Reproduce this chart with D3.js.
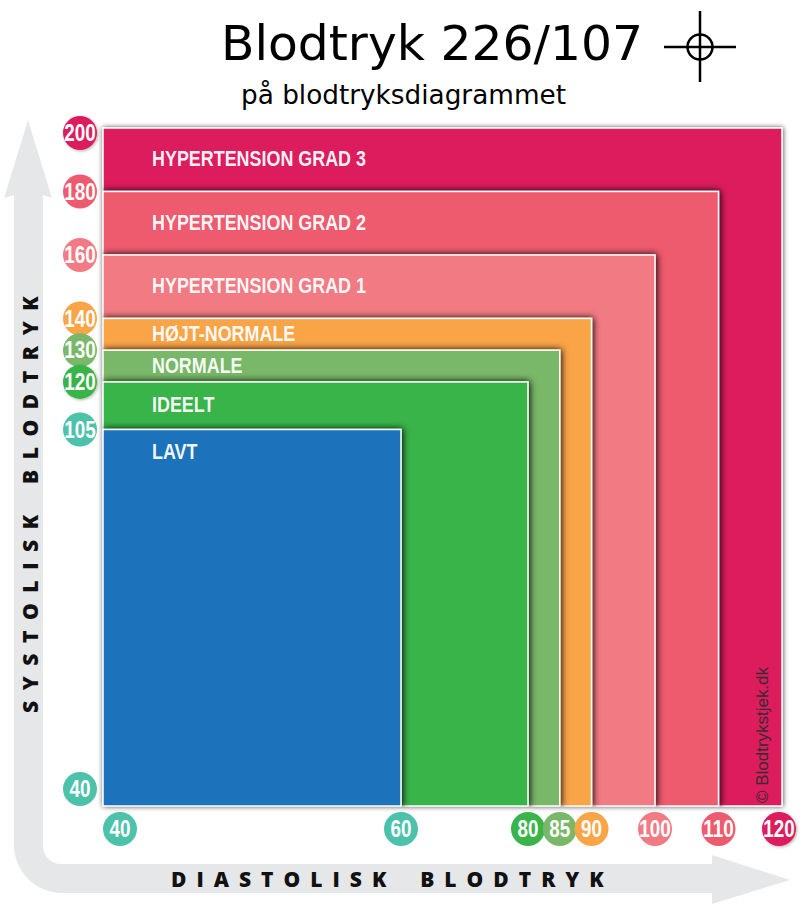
<!DOCTYPE html>
<html>
<head>
<meta charset="utf-8">
<script src="https://d3js.org/d3.v7.min.js"></script>
<style>
  html, body { margin: 0; padding: 0; background: #fff; }
  svg { display: block; }
  .band-label { font-family: "Liberation Sans", sans-serif; font-weight: bold; font-size: 22px; fill: #fff; fill-opacity: .95; }
  .tick-label { font-family: "Liberation Sans", sans-serif; font-weight: bold; font-size: 23px; fill: #fff; text-anchor: middle; dominant-baseline: central; }
  .axis-title { font-family: "Open Sans", sans-serif; font-weight: 800; font-size: 21px; fill: #111; }
</style>
</head>
<body>
<div id="chart"></div>
<script>
// -----------------------------------------//
//                 Data
// -----------------------------------------//
var categories = ["HYPERTENSION GRAD 3", "HYPERTENSION GRAD 2", "HYPERTENSION GRAD 1", "HØJT-NORMALE", "NORMALE", "IDEELT", "LAVT"];
var systolicTops = [200, 180, 160, 140, 130, 120, 105];
var diastolicEnds = [120, 110, 100, 90, 85, 80, 60];
var bandColors = ["#dc1b5c", "#ee5a6e", "#f27a83", "#f9a446", "#78b868", "#39b44a", "#1c72bb"];

var systolicTicks = [200, 180, 160, 140, 130, 120, 105, 40];
var systolicColors = ["#dc1b5c", "#ee5a6e", "#f27a83", "#f9a446", "#78b868", "#39b44a", "#4dc2ab", "#4dc2ab"];
var diastolicTicks = [40, 60, 80, 85, 90, 100, 110, 120];
var diastolicColors = ["#4dc2ab", "#4dc2ab", "#39b44a", "#78b868", "#f9a446", "#f27a83", "#ee5a6e", "#dc1b5c"];

var svgWidth = 800;
var svgHeight = 908;

var svg = d3.select("#chart").append("svg")
  .attr("width", svgWidth)
  .attr("height", svgHeight)
  .attr("viewBox", `0 0 ${svgWidth} ${svgHeight}`);

var defs = svg.append("defs");

var shadow = defs.append("filter").attr("id", "bandShadow")
  .attr("x", "-5%").attr("y", "-5%").attr("width", "110%").attr("height", "110%");
shadow.append("feDropShadow")
  .attr("dx", 1).attr("dy", 0).attr("stdDeviation", 3.5)
  .attr("flood-color", "#000").attr("flood-opacity", 1);

var outerShadow = defs.append("filter").attr("id", "outerShadow")
  .attr("x", "-5%").attr("y", "-5%").attr("width", "110%").attr("height", "110%");
outerShadow.append("feDropShadow")
  .attr("dx", 0.5).attr("dy", 0).attr("stdDeviation", 2.5)
  .attr("flood-color", "#000").attr("flood-opacity", 0.7);

var dotShadow = defs.append("filter").attr("id", "dotShadow")
  .attr("x", "-30%").attr("y", "-30%").attr("width", "160%").attr("height", "160%");
dotShadow.append("feDropShadow")
  .attr("dx", 1).attr("dy", 1).attr("stdDeviation", 1.5)
  .attr("flood-color", "#000").attr("flood-opacity", 0.3);

// scales are broken below the first band, the picture isn't to scale there
var x = d3.scaleLinear().domain([40, 60, 120]).range([103, 401, 782]);
var y = d3.scaleLinear().domain([40, 105, 200]).range([806, 429.5, 128]);

// the badges sit on the band edges but stay inside the plot corners
var badgeX = v => Math.max(120, Math.min(779, x(v)));
var badgeY = v => Math.max(133, Math.min(789, y(v)));

// inner band shadows must not spill outside the plot
defs.append("clipPath").attr("id", "plotClip")
  .append("rect")
  .attr("x", x(40) - 0.75)
  .attr("y", y(200))
  .attr("width", x(120) - x(40) + 0.75)
  .attr("height", y(40) - y(200) + 0.75);

// -----------------------------------------//
//              Grey axis arrows
// -----------------------------------------//
var arrowPath = d3.path();
arrowPath.moveTo(28, 120);
arrowPath.lineTo(52, 198);
arrowPath.lineTo(43, 195);
arrowPath.lineTo(43, 846);
arrowPath.arcTo(43, 864, 61, 864, 18);
arrowPath.lineTo(712, 864);
arrowPath.lineTo(712, 855);
arrowPath.lineTo(790, 880);
arrowPath.lineTo(712, 904);
arrowPath.lineTo(712, 893);
arrowPath.lineTo(62, 893);
arrowPath.arcTo(14, 893, 14, 845, 48);
arrowPath.lineTo(14, 195);
arrowPath.lineTo(4, 198);
arrowPath.closePath();

svg.append("path").attr("d", arrowPath.toString()).attr("fill", "#e6e7e8");

// -----------------------------------------//
//                  Bands
// -----------------------------------------//
var bands = categories.map(function(name, i) {
  return { name: name, top: systolicTops[i], end: diastolicEnds[i], color: bandColors[i], next: systolicTops[i + 1] };
});

svg.append("g").selectAll("g")
  .data(bands)
  .enter()
  .append("g")
  .attr("clip-path", (d, i) => i ? "url(#plotClip)" : null)
  .append("rect")
  .attr("x", x(40))
  .attr("y", d => y(d.top))
  .attr("width", d => x(d.end) - x(40))
  .attr("height", d => y(40) - y(d.top))
  .attr("fill", d => d.color)
  .attr("stroke", "#fff")
  .attr("stroke-width", 1.5)
  .attr("filter", (d, i) => i ? "url(#bandShadow)" : "url(#outerShadow)");

svg.append("g").selectAll("text")
  .data(bands)
  .enter()
  .append("text")
  .attr("class", "band-label")
  .attr("transform", d => `translate(152,${(d.next ? (y(d.top) + y(d.next)) / 2 : y(d.top) + 23) + 6.5}) scale(0.815,1)`)
  .text(d => d.name);

svg.append("text")
  .attr("transform", "translate(768,803) rotate(-90)")
  .attr("font-family", "'Liberation Sans', sans-serif")
  .attr("font-size", 17)
  .attr("fill", "#3a2a33")
  .attr("textLength", 136)
  .attr("lengthAdjust", "spacingAndGlyphs")
  .text("© Blodtrykstjek.dk");

// -----------------------------------------//
//               Tick badges
// -----------------------------------------//
function drawBadges(ticks, colors, cx, cy) {
  var g = svg.append("g").selectAll("g")
    .data(ticks)
    .enter()
    .append("g")
    .attr("transform", d => `translate(${cx(d)},${cy(d)})`);

  g.append("circle")
    .attr("r", 17)
    .attr("fill", (d, i) => colors[i])
    .attr("filter", d => d === 120 || d === 200 ? "url(#dotShadow)" : null);

  g.append("text")
    .attr("class", "tick-label")
    .attr("transform", "scale(0.82,1)")
    .text(d => d);
}

drawBadges(systolicTicks, systolicColors, () => 80, badgeY);
drawBadges(diastolicTicks, diastolicColors, badgeX, () => 829);

// -----------------------------------------//
//                  Titles
// -----------------------------------------//
svg.append("text")
  .attr("x", 221).attr("y", 60)
  .attr("font-family", "'DejaVu Sans', sans-serif")
  .attr("font-size", 48)
  .attr("fill", "#000")
  .attr("textLength", 422)
  .attr("lengthAdjust", "spacingAndGlyphs")
  .text("Blodtryk 226/107");

svg.append("text")
  .attr("x", 241).attr("y", 104)
  .attr("font-family", "'DejaVu Sans', sans-serif")
  .attr("font-size", 26)
  .attr("fill", "#000")
  .attr("textLength", 325)
  .attr("lengthAdjust", "spacingAndGlyphs")
  .text("på blodtryksdiagrammet");

// crosshair marker next to the title
var marker = svg.append("g").attr("stroke", "#000").attr("stroke-width", 2.5).attr("fill", "none");
marker.append("circle").attr("cx", 700).attr("cy", 47).attr("r", 12.5);
marker.append("line").attr("x1", 664).attr("x2", 736).attr("y1", 47).attr("y2", 47);
marker.append("line").attr("x1", 700).attr("x2", 700).attr("y1", 11).attr("y2", 82);

svg.append("text")
  .attr("class", "axis-title")
  .attr("x", 171).attr("y", 887)
  .attr("letter-spacing", 10)
  .attr("word-spacing", -3.5)
  .attr("xml:space", "preserve")
  .text("DIASTOLISK  BLODTRYK");

svg.append("text")
  .attr("class", "axis-title")
  .attr("transform", "translate(38,713) rotate(-90)")
  .attr("letter-spacing", 10.6)
  .attr("word-spacing", -6)
  .attr("xml:space", "preserve")
  .text("SYSTOLISK  BLODTRYK");
</script>
</body>
</html>
